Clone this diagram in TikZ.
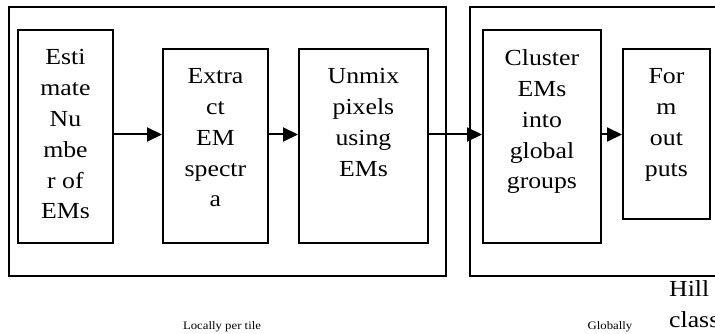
\documentclass[tikz,border=0pt]{standalone}
\usepackage{fontspec}
\setmainfont[FakeStretch=1.12]{Liberation Serif}
\usepackage{tikz}
\usetikzlibrary{arrows.meta,positioning,calc}
\tikzset{
  stage/.style={
    draw=black, line width=1.9pt, anchor=north west, inner sep=0pt},
  stagetext/.style={
    anchor=north, inner sep=0pt, align=center,
    font=\fontsize{23}{30.8}\selectfont},
  group/.style={
    draw=black, line width=1.9pt, anchor=north west, inner sep=0pt},
  flow/.style={-{Triangle[length=15pt,width=14pt]}, draw=black,
    line width=2pt},
  note/.style={anchor=base, inner sep=0pt, font=\fontsize{11.4}{13}\selectfont},
}
\begin{document}
\begin{tikzpicture}[x=1pt,y=-1pt]
\useasboundingbox (0,0) rectangle (715,334);
\clip (0,0) rectangle (715,334);

\node[group, minimum width=437pt, minimum height=269pt] (local) at (8,6) {};
\node[group, minimum width=260pt, minimum height=269pt] (global) at (469,6) {};

\node[stage, minimum width=95pt,  minimum height=213pt] (estimate) at (17,29) {};
\node[stage, minimum width=105pt, minimum height=194pt] (extract)  at (162,48) {};
\node[stage, minimum width=129pt, minimum height=194pt] (unmix)    at (298,48) {};
\node[stage, minimum width=118pt, minimum height=213pt] (cluster)  at (482,29) {};
\node[stage, minimum width=87pt,  minimum height=170pt] (outputs)  at (622,48) {};

\node[stagetext] (estimatetxt) at ([yshift=-20.5pt]estimate.north)
  {Esti\\mate\\Nu\\mbe\\r of\\EMs};
\node[stagetext] (extracttxt) at ([yshift=-20.5pt]extract.north)
  {Extra\\ct\\EM\\spectr\\a};
\node[stagetext] (unmixtxt) at ([yshift=-20.5pt]unmix.north)
  {Unmix\\pixels\\using\\EMs};
\node[stagetext] (clustertxt) at ([yshift=-20.5pt]cluster.north)
  {Cluster\\EMs\\into\\global\\groups};
\node[stagetext] (outputstxt) at ([yshift=-20.5pt]outputs.north)
  {For\\m\\out\\puts};

\coordinate (flowline) at (0,134.5);
\foreach \a/\b in {estimate/extract, extract/unmix, unmix/cluster, cluster/outputs}
  \draw[flow] (flowline -| \a.east) -- (flowline -| \b.west);

\node[note] (locallbl) at (222,329.5) {Locally per tile};
\node[note] (globallbl) at (610,329) {Globally};
\node[stagetext, anchor=north west, align=left] (hilllbl) at (669,280.5)
  {Hill\\class};

\end{tikzpicture}
\end{document}
